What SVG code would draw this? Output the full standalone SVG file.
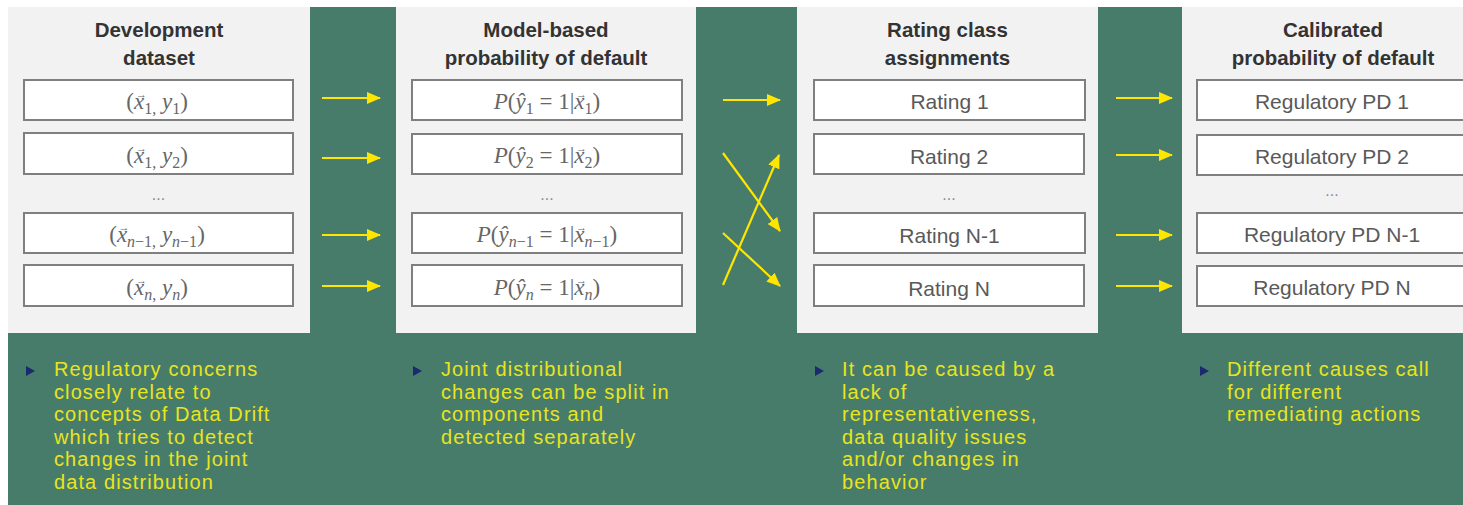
<svg xmlns="http://www.w3.org/2000/svg" width="1463" height="505" viewBox="0 0 1463 505">
<defs>
<style>
.bg{fill:#477c6a}
.panel{fill:#f2f2f2}
.box{fill:#ffffff;stroke:#7f7f7f;stroke-width:2}
.title{font-family:"Liberation Sans",Arial,sans-serif;font-weight:bold;font-size:20.5px;fill:#333333;text-anchor:middle}
.lbl{font-family:"Liberation Sans",Arial,sans-serif;font-size:21px;fill:#595959;text-anchor:middle}
.math{font-family:"Liberation Serif","Times New Roman",serif;font-size:23px;fill:#666666}
.vec{font-size:11px}
.it{font-style:italic}
.sub{font-size:16px}
.dots{font-family:"Liberation Sans",Arial,sans-serif;font-size:16px;fill:#8c8c8c;text-anchor:middle}
.note{font-family:"Liberation Sans",Arial,sans-serif;font-size:20px;letter-spacing:1.1px;fill:#e9e420}
.bullet{fill:#1b2a6e}
.arr{stroke:#ffe600;stroke-width:2.2;fill:none;marker-end:url(#ah)}
</style>
<marker id="ah" markerUnits="userSpaceOnUse" markerWidth="14" markerHeight="12" refX="13" refY="6" orient="auto">
<path d="M0,0 L14,6 L0,12 Z" fill="#ffe600"/>
</marker>
</defs>
<rect x="0" y="0" width="1463" height="505" fill="#ffffff"/>
<rect class="bg" x="8" y="7" width="1455" height="498"/>

<g id="panel-development">
<rect class="panel" x="8" y="7" width="302" height="326"/>
<text class="title" x="159" y="37">Development</text>
<text class="title" x="159" y="65">dataset</text>
<g id="dev-1"><rect class="box" x="24" y="80" width="269" height="40"/>
<text class="math" x="126.3" y="109">(<tspan class="it">x</tspan><tspan class="vec" x="136" y="98">→</tspan><tspan class="sub" x="144.2" y="114">1,</tspan><tspan y="109"> </tspan><tspan class="it">y</tspan><tspan class="sub" y="114">1</tspan><tspan y="109">)</tspan></text></g>
<g id="dev-2"><rect class="box" x="24" y="133" width="269" height="41"/>
<text class="math" x="126.3" y="163">(<tspan class="it">x</tspan><tspan class="vec" x="136" y="152">→</tspan><tspan class="sub" x="144.2" y="168">1,</tspan><tspan y="163"> </tspan><tspan class="it">y</tspan><tspan class="sub" y="168">2</tspan><tspan y="163">)</tspan></text></g>
<text class="dots" x="158.5" y="200">...</text>
<g id="dev-n1"><rect class="box" x="24" y="213" width="269" height="40"/>
<text class="math" x="109.3" y="242">(<tspan class="it">x</tspan><tspan class="vec" x="118.5" y="231">→</tspan><tspan class="sub it" x="127.1" y="247">n</tspan><tspan class="sub">−1,</tspan><tspan y="242"> </tspan><tspan class="it">y</tspan><tspan class="sub it" y="247">n</tspan><tspan class="sub">−1</tspan><tspan y="242">)</tspan></text></g>
<g id="dev-n"><rect class="box" x="24" y="265" width="269" height="41"/>
<text class="math" x="126.3" y="295">(<tspan class="it">x</tspan><tspan class="vec" x="136" y="284">→</tspan><tspan class="sub it" x="144.2" y="300">n</tspan><tspan class="sub">,</tspan><tspan y="295"> </tspan><tspan class="it">y</tspan><tspan class="sub it" y="300">n</tspan><tspan y="295">)</tspan></text></g>
</g>

<g id="panel-model">
<rect class="panel" x="396" y="7" width="300" height="326"/>
<text class="title" x="546" y="37">Model-based</text>
<text class="title" x="546" y="65">probability of default</text>
<g id="model-1"><rect class="box" x="412" y="80" width="270" height="40"/>
<text class="math" x="493.8" y="109"><tspan class="it">P</tspan>(<tspan class="it">ŷ</tspan><tspan class="sub" y="114">1</tspan><tspan y="109"> = 1|</tspan><tspan class="it">x</tspan><tspan class="vec" x="576" y="98">→</tspan><tspan class="sub" x="584.5" y="114">1</tspan><tspan y="109">)</tspan></text></g>
<g id="model-2"><rect class="box" x="412" y="134" width="270" height="40"/>
<text class="math" x="493.8" y="163"><tspan class="it">P</tspan>(<tspan class="it">ŷ</tspan><tspan class="sub" y="168">2</tspan><tspan y="163"> = 1|</tspan><tspan class="it">x</tspan><tspan class="vec" x="576" y="152">→</tspan><tspan class="sub" x="584.5" y="168">2</tspan><tspan y="163">)</tspan></text></g>
<text class="dots" x="547" y="200">...</text>
<g id="model-n1"><rect class="box" x="412" y="213" width="270" height="40"/>
<text class="math" x="476.8" y="242"><tspan class="it">P</tspan>(<tspan class="it">ŷ</tspan><tspan class="sub it" y="247">n</tspan><tspan class="sub">−1</tspan><tspan y="242"> = 1|</tspan><tspan class="it">x</tspan><tspan class="vec" x="576" y="231">→</tspan><tspan class="sub it" x="584.5" y="247">n</tspan><tspan class="sub">−1</tspan><tspan y="242">)</tspan></text></g>
<g id="model-n"><rect class="box" x="412" y="265" width="270" height="41"/>
<text class="math" x="493.8" y="295"><tspan class="it">P</tspan>(<tspan class="it">ŷ</tspan><tspan class="sub it" y="300">n</tspan><tspan y="295"> = 1|</tspan><tspan class="it">x</tspan><tspan class="vec" x="576" y="284">→</tspan><tspan class="sub it" x="584.5" y="300">n</tspan><tspan y="295">)</tspan></text></g>
</g>

<g id="panel-rating">
<rect class="panel" x="797" y="7" width="301" height="326"/>
<text class="title" x="947.5" y="37">Rating class</text>
<text class="title" x="947.5" y="65">assignments</text>
<g id="rating-1"><rect class="box" x="814" y="80" width="271" height="40"/>
<text class="lbl" x="949.5" y="109">Rating 1</text></g>
<g id="rating-2"><rect class="box" x="814" y="134" width="270" height="40"/>
<text class="lbl" x="949" y="164">Rating 2</text></g>
<text class="dots" x="949" y="200">...</text>
<g id="rating-n1"><rect class="box" x="814" y="213" width="271" height="40"/>
<text class="lbl" x="949.5" y="243">Rating N-1</text></g>
<g id="rating-n"><rect class="box" x="814" y="265" width="270" height="41"/>
<text class="lbl" x="949" y="296">Rating N</text></g>
</g>

<g id="panel-calibrated">
<rect class="panel" x="1182" y="7" width="281" height="326"/>
<text class="title" x="1333" y="37">Calibrated</text>
<text class="title" x="1333" y="65">probability of default</text>
<g id="pd-1"><rect class="box" x="1197" y="80" width="270" height="40"/>
<text class="lbl" x="1332" y="109">Regulatory PD 1</text></g>
<g id="pd-2"><rect class="box" x="1197" y="135" width="270" height="40"/>
<text class="lbl" x="1332" y="164">Regulatory PD 2</text></g>
<text class="dots" x="1332" y="196">...</text>
<g id="pd-n1"><rect class="box" x="1197" y="213" width="270" height="40"/>
<text class="lbl" x="1332" y="242">Regulatory PD N-1</text></g>
<g id="pd-n"><rect class="box" x="1197" y="266" width="270" height="40"/>
<text class="lbl" x="1332" y="295">Regulatory PD N</text></g>
</g>

<g id="connectors">
<line class="arr" x1="322" y1="98" x2="380" y2="98"/>
<line class="arr" x1="322" y1="158" x2="380" y2="158"/>
<line class="arr" x1="322" y1="235" x2="380" y2="235"/>
<line class="arr" x1="322" y1="286" x2="380" y2="286"/>
<line class="arr" x1="723" y1="100" x2="780" y2="100"/>
<line class="arr" x1="723" y1="153" x2="780" y2="231"/>
<line class="arr" x1="723" y1="233" x2="780" y2="286"/>
<line class="arr" x1="723" y1="285" x2="779" y2="155"/>
<line class="arr" x1="1116" y1="98" x2="1172" y2="98"/>
<line class="arr" x1="1116" y1="155" x2="1172" y2="155"/>
<line class="arr" x1="1116" y1="235" x2="1172" y2="235"/>
<line class="arr" x1="1116" y1="286" x2="1172" y2="286"/>
</g>

<g id="note-1">
<polygon class="bullet" points="26,366 35,371 26,376"/>
<text class="note" x="54" y="376">Regulatory concerns</text>
<text class="note" x="54" y="398.6">closely relate to</text>
<text class="note" x="54" y="421.2">concepts of Data Drift</text>
<text class="note" x="54" y="443.8">which tries to detect</text>
<text class="note" x="54" y="466.4">changes in the joint</text>
<text class="note" x="54" y="489">data distribution</text>
</g>
<g id="note-2">
<polygon class="bullet" points="413,366 422,371 413,376"/>
<text class="note" x="441" y="376">Joint distributional</text>
<text class="note" x="441" y="398.6">changes can be split in</text>
<text class="note" x="441" y="421.2">components and</text>
<text class="note" x="441" y="443.8">detected separately</text>
</g>
<g id="note-3">
<polygon class="bullet" points="815,366 824,371 815,376"/>
<text class="note" x="842" y="376">It can be caused by a</text>
<text class="note" x="842" y="398.6">lack of</text>
<text class="note" x="842" y="421.2">representativeness,</text>
<text class="note" x="842" y="443.8">data quality issues</text>
<text class="note" x="842" y="466.4">and/or changes in</text>
<text class="note" x="842" y="489">behavior</text>
</g>
<g id="note-4">
<polygon class="bullet" points="1200,366 1209,371 1200,376"/>
<text class="note" x="1227" y="376">Different causes call</text>
<text class="note" x="1227" y="398.6">for different</text>
<text class="note" x="1227" y="421.2">remediating actions</text>
</g>
</svg>
